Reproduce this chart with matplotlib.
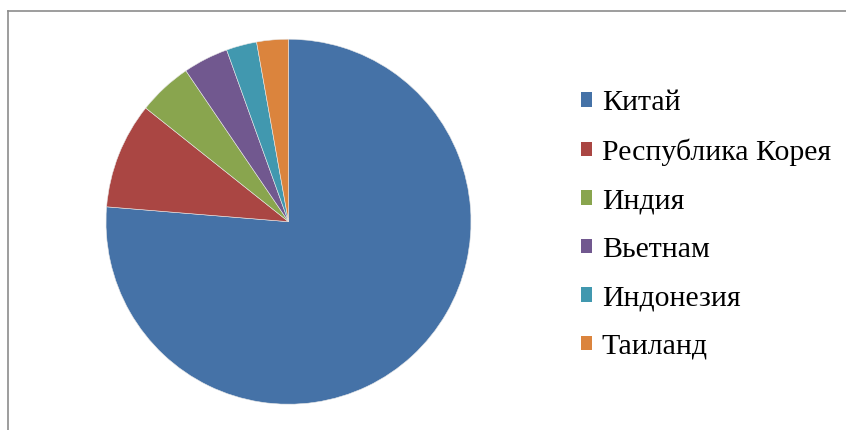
import matplotlib.pyplot as plt
from matplotlib.patches import Rectangle
from matplotlib.lines import Line2D

countries = ['Китай', 'Республика Корея', 'Индия', 'Вьетнам', 'Индонезия', 'Таиланд']
shares = [76.3, 9.4, 4.8, 4.0, 2.7, 2.8]
colors = ['#4572A7', '#AA4643', '#89A54E', '#71588F', '#4198AF', '#DB843D']

W, H = 846, 430
fig = plt.figure(figsize=(W / 100, H / 100), dpi=100)

# chart border (only left and top visible in the crop)
fig.add_artist(Line2D([7.5 / W, 7.5 / W], [0, 1 - 10.5 / H], transform=fig.transFigure,
                      color='#8c8c8c', lw=1.2))
fig.add_artist(Line2D([7.5 / W, 1.01], [1 - 10.5 / H, 1 - 10.5 / H], transform=fig.transFigure,
                      color='#8c8c8c', lw=1.2))

# pie axes: center (288.5, 221.7), radius 182.5 px
cx, cy, r = 288.5, 221.7, 182.5
ax = fig.add_axes([(cx - r) / W, (H - cy - r) / H, 2 * r / W, 2 * r / H])
wedges, _ = ax.pie(shares, colors=colors, startangle=90, counterclock=False,
                   radius=1, wedgeprops=dict(edgecolor='#e8e8e8', linewidth=0.4))
ax.set_xlim(-1, 1)
ax.set_ylim(-1, 1)
ax.set_aspect('equal')
ax.axis('off')

handles = [Rectangle((0, 0), 1, 1, facecolor=c, edgecolor='none') for c in colors]
leg = fig.legend(handles, countries, loc='upper left',
                 bbox_to_anchor=(581 / W, 1 - 90 / H),
                 frameon=False, prop={'family': 'Liberation Serif', 'size': 21.5},
                 handlelength=0.37, handleheight=0.37, handletextpad=0.33,
                 labelspacing=0.75, borderpad=0, borderaxespad=0)

fig.savefig('out.png', dpi=100)
